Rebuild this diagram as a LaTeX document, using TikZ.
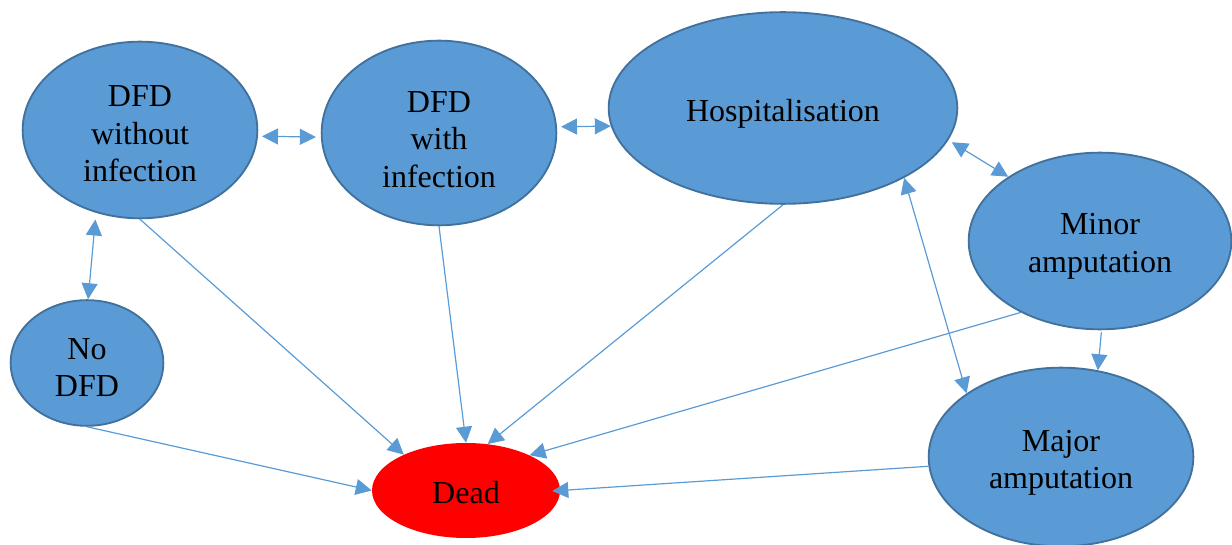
\documentclass[tikz,border=0pt]{standalone}
\usepackage{fontspec}
\setmainfont{Liberation Serif}
\usetikzlibrary{arrows.meta,shapes.geometric}
\definecolor{nodefill}{HTML}{5B9BD5}
\definecolor{nodeborder}{HTML}{41719C}
\definecolor{arrowcol}{HTML}{5B9BD5}
\begin{document}
\begin{tikzpicture}[x=0.75pt,y=-0.75pt,
  state/.style={ellipse, draw=nodeborder, line width=1.4pt, fill=nodefill, inner sep=0pt},
  deadstate/.style={ellipse, fill=red, inner sep=0pt},
  txt/.style={align=center, inner sep=0pt, font=\fontsize{24}{28.2}\selectfont},
  link/.style={draw=arrowcol, line width=0.9pt, -{Triangle[length=12pt,width=12pt]}},
  twoway/.style={draw=arrowcol, line width=0.9pt, {Triangle[length=12pt,width=12pt]}-{Triangle[length=12pt,width=12pt]}}]
\useasboundingbox (0,0) rectangle (1232,545);
\node[state, minimum width=176pt, minimum height=132.5pt,
  label={[txt, yshift=-3pt]center:{DFD\\without\\infection}}] (w) at (140,130) {};
\node[state, minimum width=176pt, minimum height=138.5pt,
  label={[txt, yshift=-5pt]center:{DFD\\with\\infection}}] (i) at (439,133) {};
\node[state, minimum width=261.5pt, minimum height=143.75pt,
  label={[txt, yshift=-4.5pt]center:{Hospitalisation}}] (H) at (783,108) {};
\node[state, minimum width=197pt, minimum height=132.5pt,
  label={[txt, yshift=-4pt]center:{Minor\\amputation}}] (m) at (1100,241) {};
\node[state, minimum width=198.5pt, minimum height=134pt,
  label={[txt, yshift=-4.5pt]center:{Major\\amputation}}] (M) at (1061,457) {};
\node[state, minimum width=114.5pt, minimum height=94.25pt,
  label={[txt, yshift=-3.5pt]center:{No\\DFD}}] (n) at (87,363) {};
\node[deadstate, minimum width=141pt, minimum height=71.25pt,
  label={[txt, yshift=-1.5pt]center:{Dead}}] (d) at (466,490.5) {};
% two-way connectors
\draw[twoway, shorten <=3pt, shorten >=3.75pt] (w.-3) -- (i.182);
\draw[twoway, shorten <=3pt] (i.3) -- (H.186);
\draw[twoway, shorten <=3pt] (H.-11) -- (m.145);
\draw[twoway] (H.-30) -- (M.146);
\draw[twoway, shorten <=5pt] (w.-118) -- (n.89);
% one-way connectors
\draw[link, shorten <=1.5pt] (m.-89) -- (M.67);
\draw[link] (w.-90) -- (d.150);
\draw[link] (i.-90) -- (d.90);
\draw[link] (H.-90) -- (d.65);
\draw[link] (m.222) -- (d.29);
\draw[link, shorten >=-6pt] (M.184) -- (d.0);
\draw[link] (n.-90) -- (d.180);
\end{tikzpicture}
\end{document}
